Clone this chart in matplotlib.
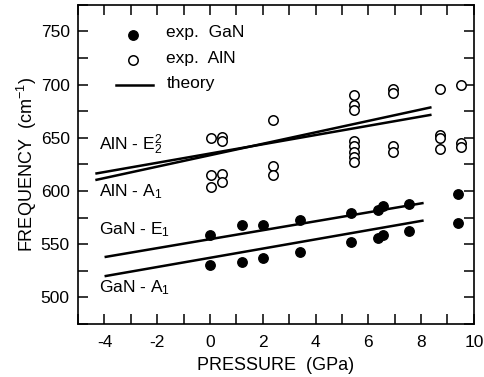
import numpy as np
import matplotlib
matplotlib.use('Agg')
import matplotlib.pyplot as plt
from matplotlib.ticker import MultipleLocator

plt.rcParams['font.family'] = ['Liberation Sans', 'DejaVu Sans']
plt.rcParams['mathtext.fontset'] = 'custom'
plt.rcParams['mathtext.rm'] = 'Liberation Sans'
plt.rcParams['mathtext.it'] = 'Liberation Sans'
plt.rcParams['axes.unicode_minus'] = False

# ==========================
# Datos experimentales
# ==========================
gan_p = [0, 0, 1.2, 1.2, 2.0, 2.0, 3.4, 3.4, 5.35, 5.35, 6.35, 6.35,
         6.55, 6.55, 7.55, 7.55, 9.4, 9.4]
gan_f = [559, 530, 568, 533, 568, 537, 573, 543, 579, 552, 582, 556,
         586, 559, 588, 562, 597, 570]

aln_p = [0.05, 0.05, 0.05, 0.45, 0.45, 0.45, 0.45, 2.4, 2.4, 2.4,
         5.45, 5.45, 5.45, 5.45, 5.45, 5.45, 5.45, 5.45,
         6.95, 6.95, 6.95, 6.95, 8.7, 8.7, 8.7, 8.7, 9.5, 9.5, 9.5]
aln_f = [650, 615, 604, 651, 647, 616, 608, 667, 623, 615,
         690, 681, 676, 647, 642, 637, 632, 627,
         696, 692, 642, 637, 696, 653, 650, 639, 700, 645, 641]

# Rectas teóricas (extremos)
aln_e2_p = [-4.3, 8.35]
aln_e2_f = [616.5, 671.5]
aln_a1_p = [-4.3, 8.35]
aln_a1_f = [610.5, 678.5]
gan_e1_p = [-3.95, 8.05]
gan_e1_f = [538, 588.5]
gan_a1_p = [-3.95, 8.05]
gan_a1_f = [520, 572]

FS = 12.5

# ==========================
# Gráfico
# ==========================
fig, ax = plt.subplots(figsize=(4.85, 3.77), dpi=100)
fig.subplots_adjust(left=0.161, right=0.977, top=0.987, bottom=0.141)

for px, fy in [(aln_e2_p, aln_e2_f), (aln_a1_p, aln_a1_f),
               (gan_e1_p, gan_e1_f), (gan_a1_p, gan_a1_f)]:
    ax.plot(px, fy, color='black', lw=1.8)

ax.plot(gan_p, gan_f, 'o', color='black', ms=6.8, ls='none')
ax.plot(aln_p, aln_f, 'o', mfc='white', mec='black', mew=1.1, ms=6.8, ls='none')

# Leyenda manual
ax.plot([-2.9], [747], 'o', color='black', ms=6.8)
ax.text(-1.65, 749, 'exp.  GaN', fontsize=FS, va='center')
ax.plot([-2.9], [723], 'o', mfc='white', mec='black', mew=1.1, ms=6.8)
ax.text(-1.65, 725, 'exp.  AlN', fontsize=FS, va='center')
ax.plot([-3.55, -2.15], [700, 700], color='black', lw=1.8)
ax.text(-1.65, 701, 'theory', fontsize=FS, va='center')

# Etiquetas de modos
ax.text(-4.2, 643, r'AlN - E$_2^2$', fontsize=FS, va='center')
ax.text(-4.2, 599, r'AlN - A$_1$', fontsize=FS, va='center')
ax.text(-4.2, 564, r'GaN - E$_1$', fontsize=FS, va='center')
ax.text(-4.2, 509, r'GaN - A$_1$', fontsize=FS, va='center')

ax.set_xlim(-5, 10)
ax.set_ylim(475, 775)
ax.xaxis.set_major_locator(MultipleLocator(2))
ax.xaxis.set_minor_locator(MultipleLocator(1))
ax.yaxis.set_major_locator(MultipleLocator(50))
ax.yaxis.set_minor_locator(MultipleLocator(25))
ax.tick_params(which='both', direction='in', top=True, right=True,
               length=7, width=1.1, labelsize=FS)
ax.tick_params(axis='x', pad=8)
ax.tick_params(axis='y', pad=6)
for s in ax.spines.values():
    s.set_linewidth(1.2)

ax.set_xlabel('PRESSURE  (GPa)', fontsize=FS + 0.5, labelpad=5)
ax.set_ylabel(r'FREQUENCY  (cm$^{-1}$)', fontsize=FS + 0.5, labelpad=1)

fig.savefig('out.png', dpi=100)
